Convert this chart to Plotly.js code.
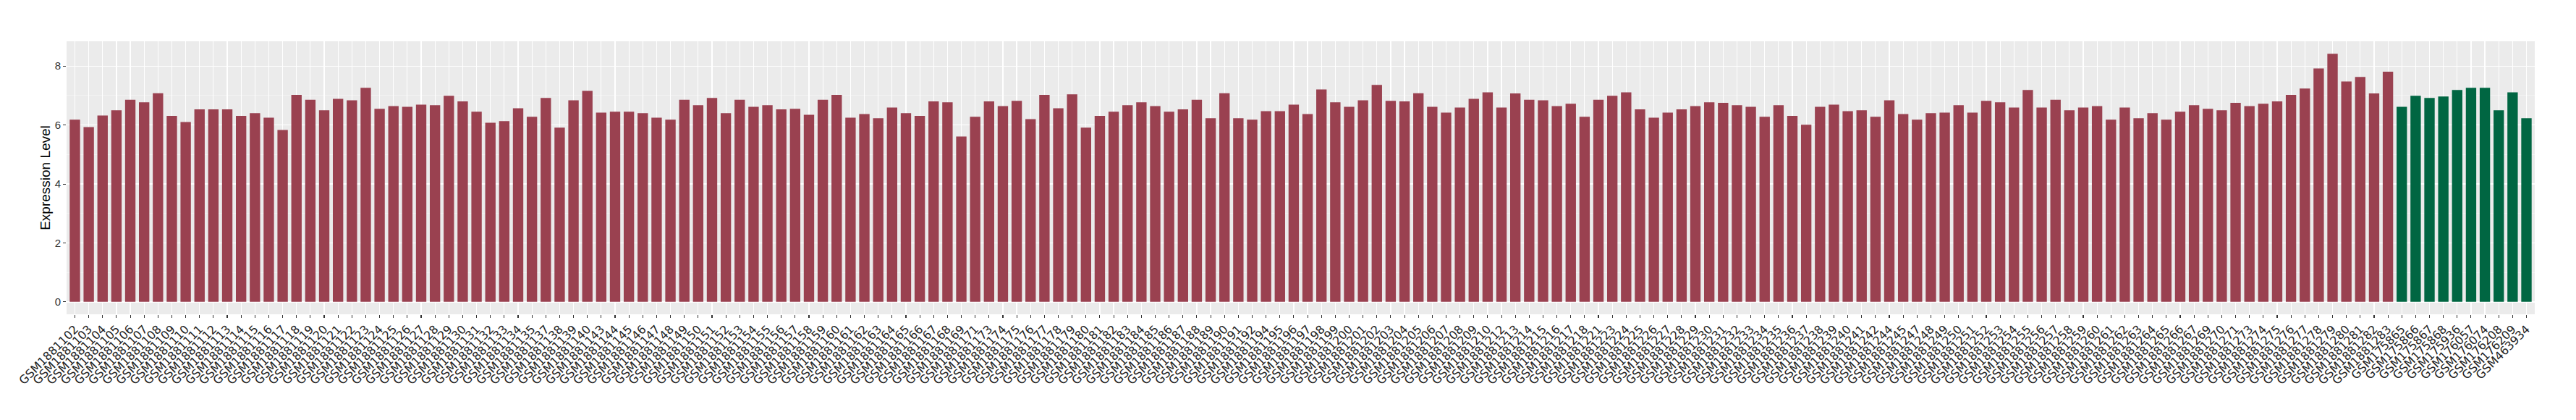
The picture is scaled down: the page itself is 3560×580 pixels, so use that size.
<!DOCTYPE html>
<html>
<head>
<meta charset="utf-8">
<script src="https://cdn.plot.ly/plotly-3.0.1.min.js"></script>
<style>
  html, body { margin: 0; padding: 0; background: #ffffff; }
  #chart { width: 3560px; height: 580px; }
</style>
</head>
<body>
<div id="chart"></div>
<script>
// Group 1 samples (red)
const redSamples = [
  "GSM1881102","GSM1881103","GSM1881104","GSM1881105","GSM1881106","GSM1881107","GSM1881108","GSM1881109","GSM1881110","GSM1881111","GSM1881112","GSM1881113","GSM1881114","GSM1881115","GSM1881116","GSM1881117","GSM1881118",
  "GSM1881119","GSM1881120","GSM1881121","GSM1881122","GSM1881123","GSM1881124","GSM1881125","GSM1881126","GSM1881127","GSM1881128","GSM1881129","GSM1881130","GSM1881131","GSM1881132","GSM1881133","GSM1881134","GSM1881135","GSM1881137","GSM1881138","GSM1881139","GSM1881140",
  "GSM1881143","GSM1881144","GSM1881145","GSM1881146","GSM1881147","GSM1881148","GSM1881149","GSM1881150","GSM1881151","GSM1881152","GSM1881153","GSM1881154","GSM1881155","GSM1881156","GSM1881157","GSM1881158","GSM1881159","GSM1881160","GSM1881161","GSM1881162","GSM1881163",
  "GSM1881164","GSM1881165","GSM1881166","GSM1881167","GSM1881168","GSM1881169","GSM1881171","GSM1881173","GSM1881174","GSM1881175","GSM1881176","GSM1881177","GSM1881178","GSM1881179","GSM1881180","GSM1881181","GSM1881182","GSM1881183","GSM1881184","GSM1881185","GSM1881186",
  "GSM1881187","GSM1881188","GSM1881189","GSM1881190","GSM1881191","GSM1881192","GSM1881194","GSM1881195","GSM1881196","GSM1881197","GSM1881198","GSM1881199","GSM1881200","GSM1881201","GSM1881202","GSM1881203","GSM1881204","GSM1881205","GSM1881206","GSM1881207","GSM1881208",
  "GSM1881209","GSM1881210","GSM1881212","GSM1881213","GSM1881214","GSM1881215","GSM1881216","GSM1881217","GSM1881218","GSM1881221","GSM1881223","GSM1881224","GSM1881225","GSM1881226","GSM1881227","GSM1881228","GSM1881229","GSM1881230","GSM1881231","GSM1881232","GSM1881233",
  "GSM1881234","GSM1881235","GSM1881236","GSM1881237","GSM1881238","GSM1881239","GSM1881240","GSM1881241","GSM1881242","GSM1881244","GSM1881245","GSM1881247","GSM1881248","GSM1881249","GSM1881250","GSM1881251","GSM1881252","GSM1881253","GSM1881254","GSM1881255","GSM1881256",
  "GSM1881257","GSM1881258","GSM1881259","GSM1881260","GSM1881261","GSM1881262","GSM1881263","GSM1881264","GSM1881265","GSM1881266","GSM1881267","GSM1881269","GSM1881270","GSM1881271","GSM1881273","GSM1881274","GSM1881275","GSM1881276","GSM1881277","GSM1881278","GSM1881279",
  "GSM1881280","GSM1881281","GSM1881282","GSM1881283"
];
const redValues = [
  6.18,5.93,6.32,6.50,6.86,6.77,7.08,6.31,6.10,6.53,6.53,6.53,6.31,6.40,6.25,5.83,7.02,
  6.86,6.50,6.89,6.84,7.26,6.55,6.64,6.62,6.69,6.67,6.99,6.80,6.45,6.08,6.13,6.57,6.28,6.92,5.91,6.84,7.16,
  6.42,6.45,6.45,6.40,6.25,6.18,6.86,6.67,6.92,6.40,6.86,6.62,6.67,6.53,6.55,6.35,6.86,7.02,6.25,6.37,6.23,
  6.59,6.40,6.31,6.80,6.77,5.61,6.28,6.80,6.64,6.82,6.20,7.02,6.57,7.04,5.91,6.31,6.45,6.67,6.77,6.64,6.45,
  6.53,6.86,6.23,7.08,6.23,6.18,6.47,6.47,6.69,6.37,7.21,6.77,6.62,6.84,7.36,6.82,6.80,7.08,6.62,6.42,6.59,
  6.89,7.11,6.59,7.07,6.86,6.84,6.64,6.72,6.28,6.86,6.99,7.11,6.53,6.25,6.42,6.53,6.64,6.77,6.75,6.67,6.62,
  6.28,6.67,6.31,6.01,6.62,6.69,6.47,6.50,6.28,6.84,6.37,6.18,6.40,6.42,6.67,6.42,6.82,6.77,6.59,7.19,6.59,
  6.86,6.50,6.59,6.64,6.18,6.59,6.23,6.40,6.18,6.45,6.67,6.55,6.50,6.75,6.64,6.72,6.80,7.02,7.24,7.92,8.42,
  7.48,7.63,7.07,7.81
];

// Group 2 samples (green)
const greenSamples = ["GSM175865","GSM175866","GSM175867","GSM175868","GSM175936","GSM176057","GSM176074","GSM176208","GSM176209","GSM463934"];
const greenValues = [6.62,6.99,6.92,6.97,7.19,7.26,7.26,6.50,7.11,6.23];

const yTicks = [0, 2, 4, 6, 8];
const yTitle = "Expression Level";

const allSamples = redSamples.concat(greenSamples);
const maxVal = Math.max.apply(null, redValues.concat(greenValues));
const pad = maxVal * 0.05;

const traces = [
  { type: "bar", x: redSamples, y: redValues, marker: { color: "#9A4150" }, hoverinfo: "x+y", showlegend: false },
  { type: "bar", x: greenSamples, y: greenValues, marker: { color: "#006642" }, hoverinfo: "x+y", showlegend: false }
];

const layout = {
  width: 3560,
  height: 580,
  margin: { l: 92, r: 57, t: 57, b: 146, pad: 0 },
  paper_bgcolor: "#ffffff",
  plot_bgcolor: "#EBEBEB",
  barmode: "overlay",
  bargap: 0.25,
  showlegend: false,
  xaxis: {
    type: "category",
    categoryorder: "array",
    categoryarray: allSamples,
    tickmode: "array",
    tickvals: allSamples,
    ticktext: allSamples,
    range: [-0.6, allSamples.length - 1 + 0.6],
    tickangle: -45,
    ticks: "outside",
    ticklen: 4,
    tickwidth: 1.1,
    tickcolor: "#333333",
    showgrid: true,
    gridcolor: "#FFFFFF",
    gridwidth: 1.2,
    showline: false,
    zeroline: false,
    automargin: false,
    tickfont: { family: "DejaVu Sans, sans-serif", size: 16, color: "#222222" }
  },
  yaxis: {
    range: [-pad, maxVal + pad],
    tickmode: "array",
    tickvals: yTicks,
    ticktext: yTicks.map(String),
    ticks: "outside",
    ticklen: 4,
    tickwidth: 1.1,
    tickcolor: "#333333",
    showgrid: true,
    gridcolor: "#FFFFFF",
    gridwidth: 1.3,
    minor: { dtick: 1, tick0: 0, showgrid: true, gridcolor: "#F7F7F7", gridwidth: 0.7, ticks: "" },
    showline: false,
    zeroline: false,
    automargin: false,
    tickfont: { family: "Liberation Sans, Arial, sans-serif", size: 15, color: "#333333" },
    title: { text: yTitle, standoff: 1, font: { family: "Liberation Sans, Arial, sans-serif", size: 19, color: "#000000" } }
  }
};

Plotly.newPlot("chart", traces, layout, { displayModeBar: false, staticPlot: true });
</script>
</body>
</html>
